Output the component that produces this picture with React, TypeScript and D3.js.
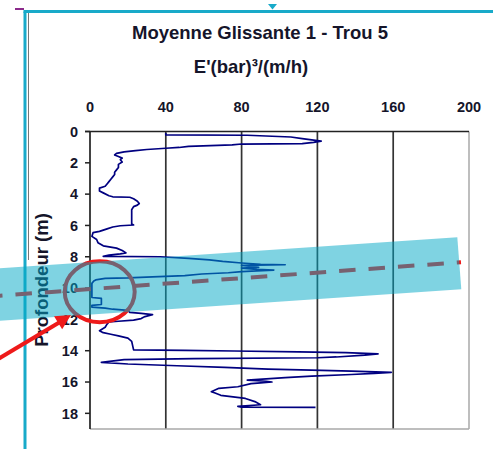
import React from "react";
import * as d3 from "d3";

const depth = [
  0.1, 0.22, 0.24, 0.35, 0.45, 0.55, 0.62, 0.7, 0.78, 0.8, 0.86, 0.95, 1.02, 1.07, 1.15, 1.22, 1.3, 1.4,
  1.5, 1.6, 1.7, 1.8, 1.95, 2.1, 2.3, 2.45, 2.6, 2.75, 2.9, 3.05, 3.2, 3.35, 3.5, 3.62, 3.8, 3.92, 4.1,
  4.17, 4.2, 4.3, 4.45, 4.6, 4.7, 4.8, 5.0, 5.3, 5.6, 5.9, 5.97, 6.02, 6.1, 6.22, 6.38, 6.46, 6.7, 6.9,
  7.1, 7.3, 7.45, 7.6, 7.75, 7.82, 7.9, 7.97, 8.0, 8.1, 8.2, 8.3, 8.4, 8.48, 8.51, 8.55, 8.62, 8.68,
  8.72, 8.8, 8.85, 8.9, 8.95, 9.02, 9.1, 9.2, 9.28, 9.35, 9.38, 9.48, 9.55, 9.7, 10.6, 10.66, 11.05,
  11.1, 11.22, 11.28, 11.35, 11.42, 11.55, 11.62, 11.7, 11.82, 11.95, 12.05, 12.12, 12.16, 12.3, 12.5,
  12.72, 12.85, 12.95, 13.05, 13.2, 13.4, 13.95, 13.98, 14.02, 14.07, 14.12, 14.2, 14.28, 14.4, 14.45,
  14.5, 14.57, 14.75, 14.85, 14.96, 15.07, 15.17, 15.24, 15.3, 15.38, 15.45, 15.52, 15.62, 15.72, 15.88,
  15.95, 16.0, 16.05, 16.1, 16.3, 16.4, 16.62, 16.7, 16.85, 17.05, 17.25, 17.45, 17.55, 17.6, 17.62,
];

const value = [
  40, 40, 83, 106, 112, 118, 122, 118, 112, 80, 75, 52, 47, 40, 30, 24, 18, 14,
  13, 15, 17, 16, 17, 15, 15, 14, 13, 13, 12, 11, 10, 9, 8, 5, 5, 7, 10,
  12, 21, 23, 25, 26, 25, 23, 22, 22, 22, 22, 23, 16, 12, 9, 5, 1.6, 1, 3.5,
  4.2, 7, 14, 17, 19, 16, 10, 7, 37, 52, 63, 70, 80, 90, 103, 80, 85, 89,
  80, 88, 97, 88, 80, 73, 59, 50, 33, 20, 8, 3, 2, 1, 1, 6, 6,
  1, 1, 8, 12, 20, 21, 27, 33, 29, 27, 23, 15, 10, 9, 8,
  5, 7, 11, 15, 20, 22, 23, 50, 76, 110, 135, 152, 145, 130, 120,
  55, 18, 6, 20, 46, 71, 94, 117, 138, 159, 150, 138, 117, 103, 83,
  93, 96, 90, 85, 78, 68, 64, 66, 69, 82, 87, 90, 78, 80, 119,
];

const xTicks = [0, 40, 80, 120, 160, 200];
const yTicks = [0, 2, 4, 6, 8, 10, 12, 14, 16, 18];
const title = "Moyenne Glissante 1 - Trou 5";
const subtitle = "E'(bar)³/(m/h)";
const yTitle = "Profondeur (m)";

export default function App() {
  const W = 493;
  const H = 449;
  const x = d3.scaleLinear().domain([0, 200]).range([90, 469]);
  const y = d3.scaleLinear().domain([0, 19]).range([131.5, 429]);
  const idx = d3.range(depth.length);
  const linePath = d3
    .line<number>()
    .x((i) => x(value[i]))
    .y((i) => y(depth[i]))(idx) as string;

  const font = "'Liberation Sans', Arial, sans-serif";
  const textColor = "#15152a";
  const cyan = "#18aac9";
  const red = "#ee1a1a";

  return (
    <svg
      width={W}
      height={H}
      style={{ position: "absolute", left: 0, top: 0, background: "#fff" }}
    >
      <rect x={0} y={0} width={W} height={H} fill="#fff" />
      {/* frame decorations */}
      <line x1={15} y1={9} x2={24} y2={9} stroke="#8b2a8b" strokeWidth={2} />
      <line x1={28.5} y1={13} x2={28.5} y2={260} stroke="#777" strokeWidth={1} />
      <line x1={25} y1={11.5} x2={25} y2={H} stroke={cyan} strokeWidth={3} />
      <line x1={23.5} y1={11.5} x2={W} y2={11.5} stroke={cyan} strokeWidth={3} />
      <polygon points="268,4 277,4 272.5,9.5" fill={cyan} />

      {/* titles */}
      <text x={260} y={39} textAnchor="middle" fontFamily={font} fontWeight="bold" fontSize={18.5} fill={textColor}>
        {title}
      </text>
      <text x={251} y={72.5} textAnchor="middle" fontFamily={font} fontWeight="bold" fontSize={18.5} fill={textColor}>
        {subtitle}
      </text>
      <text
        transform={`translate(48,280) rotate(-90)`}
        textAnchor="middle"
        fontFamily={font}
        fontWeight="bold"
        fontSize={18.5}
        fill={textColor}
      >
        {yTitle}
      </text>

      {/* grid */}
      {xTicks.slice(1, 5).map((t) => (
        <line key={"g" + t} x1={x(t)} x2={x(t)} y1={y(0)} y2={y(19)} stroke="#333" strokeWidth={1.7} />
      ))}
      <line x1={x(200)} x2={x(200)} y1={y(0)} y2={y(19)} stroke="#a8a8a8" strokeWidth={1.5} />
      <line x1={x(0)} x2={x(200)} y1={y(19)} y2={y(19)} stroke="#a8a8a8" strokeWidth={1.5} />
      <line x1={x(0)} x2={x(0)} y1={y(0)} y2={y(19)} stroke="#222" strokeWidth={1.7} />
      <line x1={x(0) - 5} x2={x(200)} y1={y(0)} y2={y(0)} stroke="#222" strokeWidth={1.7} />
      {yTicks.map((t) => (
        <line key={"t" + t} x1={x(0) - 5} x2={x(0)} y1={y(t)} y2={y(t)} stroke="#222" strokeWidth={1.5} />
      ))}

      {/* tick labels */}
      {xTicks.map((t) => (
        <text key={"xl" + t} x={x(t)} y={111.5} textAnchor="middle" fontFamily={font} fontWeight="bold" fontSize={14.5} fill={textColor}>
          {t}
        </text>
      ))}
      {yTicks.map((t) => (
        <text key={"yl" + t} x={78} y={y(t) + 5.2} textAnchor="end" fontFamily={font} fontWeight="bold" fontSize={14.5} fill={textColor}>
          {t}
        </text>
      ))}

      {/* data */}
      <path d={linePath} fill="none" stroke="#000080" strokeWidth={1.7} strokeLinejoin="round" />

      {/* annotations under band */}
      <line
        x1={-2}
        y1={295.8}
        x2={461}
        y2={262.2}
        stroke={red}
        strokeWidth={4}
        strokeDasharray="16.5 13"
        strokeDashoffset={12}
      />
      <ellipse cx={99.7} cy={291.7} rx={35} ry={30.5} fill="none" stroke={red} strokeWidth={4} />

      {/* band */}
      <polygon points="-5,268.6 457.3,237.3 461.3,289.3 -5,321" fill="#00a8c6" fillOpacity={0.5} />

      {/* arrow */}
      <line x1={-2} y1={359} x2={60} y2={322} stroke={red} strokeWidth={4} />
      <polygon points="71,315 62.2,329.2 54,316.2" fill={red} />
    </svg>
  );
}
